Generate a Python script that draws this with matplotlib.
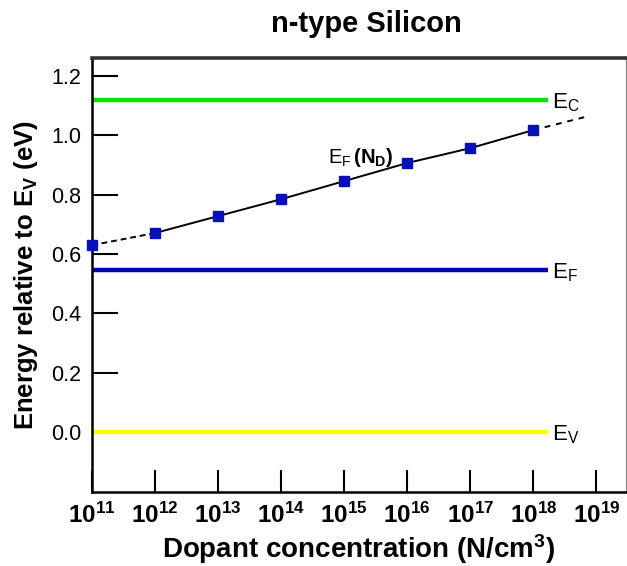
import math
import matplotlib
matplotlib.use("Agg")
import matplotlib.pyplot as plt
from matplotlib.ticker import FixedLocator, FuncFormatter

plt.rcParams['font.family'] = ['Liberation Sans', 'DejaVu Sans']
plt.rcParams['mathtext.fontset'] = 'custom'
plt.rcParams['mathtext.rm'] = 'Liberation Sans'
plt.rcParams['mathtext.it'] = 'Liberation Sans:italic'
plt.rcParams['mathtext.bf'] = 'Liberation Sans:bold'

# Fermi level vs donor concentration (n-type Si)
dopant = [1e11, 1e12, 1e13, 1e14, 1e15, 1e16, 1e17, 1e18]
e_fermi = [0.630, 0.671, 0.728, 0.785, 0.846, 0.907, 0.957, 1.018]

# extrapolation past the last computed point
extrap_n = [1e18, 6.6e18]
extrap_e = [1.018, 1.062]

# band edges and intrinsic level, eV above E_V
band_names = [r'E$_\mathregular{C}$', r'E$_\mathregular{F}$', r'E$_\mathregular{V}$']
band_levels = [1.12, 0.545, 0.0]
band_colors = ['#00e600', '#0000b0', '#ffff00']
band_span = [1e11, 1.7e18]

decades = list(range(11, 20))
yticks = [0.0, 0.2, 0.4, 0.6, 0.8, 1.0, 1.2]

fig = plt.figure(figsize=(6.27, 5.66), dpi=100)
ax = fig.add_axes([92/627, 74/566, 534/627, 434/566])

for name, lvl, col in zip(band_names, band_levels, band_colors):
    ax.plot(band_span, [lvl, lvl], color=col, lw=3.2, solid_capstyle='butt')
    ax.text(band_span[1] * 1.15, lvl - 0.008, name, fontsize=16, va='center', ha='left')

ax.plot(dopant[:2], e_fermi[:2], color='black', lw=1.4, ls=(0, (3, 2)))
ax.plot(dopant[1:], e_fermi[1:], color='black', lw=1.4)
ax.plot(extrap_n, extrap_e, color='black', lw=1.4, ls=(0, (3, 3)))
ax.plot(dopant, e_fermi, ls='none', marker='s', ms=6.5, color='#0a10b8',
        clip_on=False, zorder=5)

ax.text(5.5e14, 0.925, r'$\mathrm{E_F}\,\mathbf{(N_D)}$', fontsize=14.5,
        ha='left', va='center')

ax.set_xscale('log')
ax.set_xlim(1e11, 10**19.47)
ax.set_ylim(-0.202, 1.261)

ax.xaxis.set_major_locator(FixedLocator([10.0**d for d in decades]))
ax.xaxis.set_minor_locator(FixedLocator([]))
ax.xaxis.set_major_formatter(FuncFormatter(
    lambda v, p: r'$\mathbf{10^{%d}}$' % round(math.log10(v))))
ax.set_yticks(yticks)
ax.set_yticklabels(['%.1f' % t for t in yticks])

ax.tick_params(axis='y', direction='in', length=19, width=1.5, labelsize=15.5, pad=8,
               right=False)
ax.tick_params(axis='x', direction='in', length=16, width=1.5, labelsize=17.5, pad=8,
               top=False)

ax.spines['left'].set_linewidth(1.8)
ax.spines['bottom'].set_linewidth(1.8)
ax.spines['top'].set_linewidth(2.6)
ax.spines['top'].set_color('#333333')
ax.spines['right'].set_linewidth(0.9)
ax.spines['right'].set_color('#888888')

ax.set_xlabel(r'Dopant concentration (N/cm$^\mathbf{3}$)', fontsize=20,
              fontweight='bold', labelpad=3)
ax.set_ylabel(r'Energy relative to E$_\mathregular{V}$ (eV)', fontsize=18.5,
              fontweight='bold', labelpad=8)

fig.text(366/627, 1 - 24/566, 'n-type Silicon', fontsize=21, fontweight='bold',
         ha='center', va='center')

fig.savefig('out.png', dpi=100)
